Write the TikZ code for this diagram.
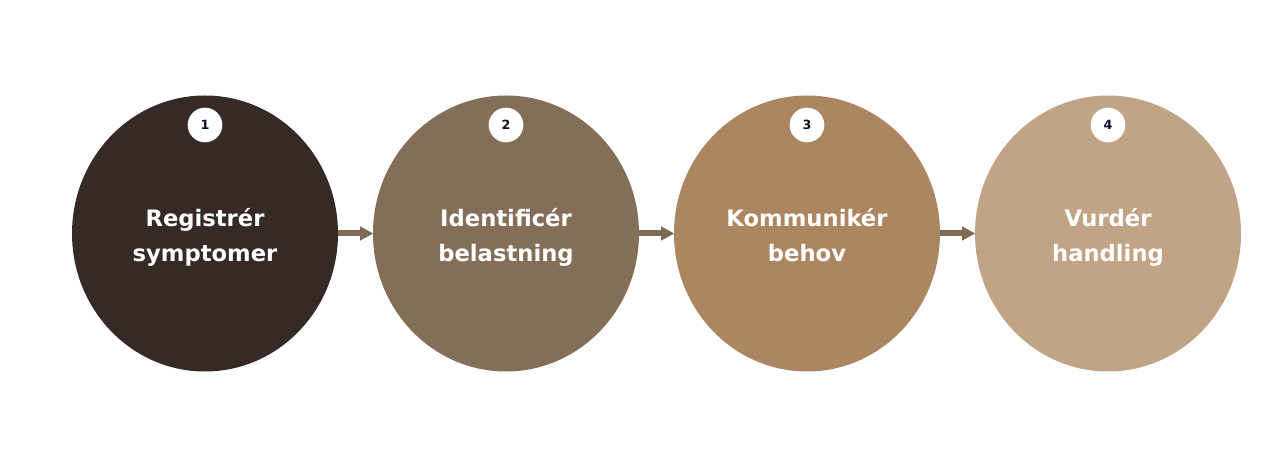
\documentclass[tikz,border=0pt]{standalone}
\usepackage{fontspec}
\setmainfont{DejaVu Sans}
\usetikzlibrary{shapes.geometric,arrows.meta}

\definecolor{stepone}{HTML}{352A25}
\definecolor{steptwo}{HTML}{846E57}
\definecolor{stepthree}{HTML}{AB8660}
\definecolor{stepfour}{HTML}{C1A385}
\definecolor{flowline}{HTML}{7F6A55}
\definecolor{badgetext}{HTML}{10102A}

\tikzset{
  stage/.style={ellipse, minimum width=199.5pt, minimum height=207pt, inner sep=0pt,
    text=white, align=center, font=\fontsize{17}{26}\selectfont\bfseries},
  badge/.style={circle, fill=white, minimum size=26pt, inner sep=0pt,
    text=badgetext, font=\fontsize{9.5}{10}\selectfont\bfseries},
  flow/.style={line width=4.5pt, draw=flowline, -{Triangle[length=10pt, width=10pt]}, shorten >=-0.5pt}
}

\begin{document}
\begin{tikzpicture}[x=0.75pt, y=-0.75pt]
            \useasboundingbox (0,0) rectangle (1286,473);

            % Define stages
            \node[stage, fill=stepone] (S1) at (205,233.5) {};
            \node[stage, fill=steptwo] (S2) at (506,233.5) {};
            \node[stage, fill=stepthree] (S3) at (807,233.5) {};
            \node[stage, fill=stepfour] (S4) at (1108,233.5) {};

            % Stage labels
            \node[stage, yshift=-2.7pt] (L1) at (S1) {\strut Registrér\\\strut symptomer};
            \node[stage, yshift=-2.7pt] (L2) at (S2) {\strut Identificér\\\strut belastning};
            \node[stage, yshift=-2.7pt] (L3) at (S3) {\strut Kommunikér\\\strut behov};
            \node[stage, yshift=-2.7pt] (L4) at (S4) {\strut Vurdér\\\strut handling};

            % Number badges
            \node[badge] (B1) at (205,125) {1};
            \node[badge] (B2) at (506,125) {2};
            \node[badge] (B3) at (807,125) {3};
            \node[badge] (B4) at (1108,125) {4};

            % Draw arrows between stages
            \draw[flow] (S1.east) -- (S2.west);
            \draw[flow] (S2.east) -- (S3.west);
            \draw[flow] (S3.east) -- (S4.west);
        \end{tikzpicture}
\end{document}
